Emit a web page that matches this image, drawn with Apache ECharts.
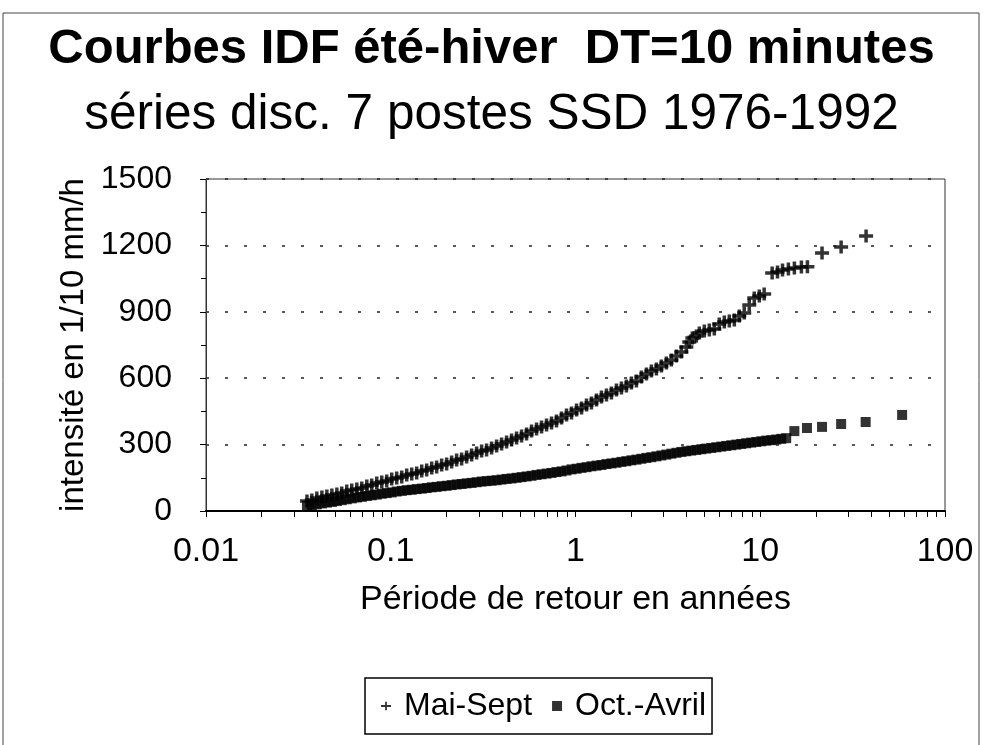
<!DOCTYPE html>
<html>
<head>
<meta charset="utf-8">
<script src="https://cdn.jsdelivr.net/npm/echarts@6/dist/echarts.min.js"></script>
<style>
html, body { margin: 0; padding: 0; background: #fff; }
#chart { width: 983px; height: 745px; }
</style>
</head>
<body>
<div id="chart"></div>
<script>
// période de retour (années) et intensité (1/10 mm/h)
var tMaiSept = [
    0.0352, 0.0374, 0.0398, 0.0424, 0.0451, 0.0480, 0.0511, 0.0543, 0.0578, 0.0615,
    0.0655, 0.0697, 0.0742, 0.0789, 0.0840, 0.0894, 0.0951, 0.1012, 0.1077, 0.1147,
    0.1220, 0.1299, 0.1382, 0.1471, 0.1565, 0.1666, 0.1772, 0.1886, 0.2007, 0.2136,
    0.2273, 0.2419, 0.2574, 0.2740, 0.2916, 0.3103, 0.3302, 0.3514, 0.3741, 0.3981,
    0.4236, 0.4508, 0.4798, 0.5106, 0.5434, 0.5783, 0.6154, 0.6550, 0.6970, 0.7418,
    0.7894, 0.8401, 0.8940, 0.9515, 1.013, 1.078, 1.147, 1.220, 1.299, 1.382,
    1.471, 1.565, 1.666, 1.773, 1.886, 2.007, 2.136, 2.274, 2.420, 2.575,
    2.741, 2.917, 3.104, 3.303, 3.516, 3.741, 3.981,
    4.13, 4.29, 4.51, 4.68, 4.98, 5.30, 5.64, 6.00, 6.39, 6.80, 7.24, 7.70,
    8.19, 8.72, 9.28, 9.88, 10.5, 11.6, 12.4, 13.2, 14.2, 15.3, 16.7, 18.0,
    21.6, 27.4, 37.4
];
var iMaiSept = [
    45, 50, 59, 63, 68, 72, 77, 81, 90, 95,
    99, 104, 113, 117, 127, 131, 136, 145, 149, 154,
    163, 167, 172, 181, 185, 194, 199, 208, 212, 221,
    230, 235, 244, 253, 262, 271, 276, 285, 294, 303,
    312, 321, 330, 339, 348, 361, 370, 380, 389, 398,
    407, 420, 434, 443, 456, 465, 479, 488, 501, 515,
    524, 533, 547, 556, 565, 578, 587, 605, 619, 633,
    642, 655, 669, 682, 700, 718, 741,
    764, 782, 791, 804, 813, 818, 822, 845, 854, 858, 863, 881,
    895, 931, 962, 971, 980, 1075, 1080, 1089, 1093, 1098, 1102, 1104,
    1166, 1193, 1242
];
var tOctAvril = [
    0.0352, 0.0374, 0.0398, 0.0424, 0.0451, 0.0480, 0.0511, 0.0543, 0.0578, 0.0615,
    0.0655, 0.0697, 0.0742, 0.0789, 0.0840, 0.0894, 0.0951, 0.1012, 0.1077, 0.1147,
    0.1220, 0.1299, 0.1382, 0.1471, 0.1565, 0.1666, 0.1772, 0.1886, 0.2007, 0.2136,
    0.2273, 0.2419, 0.2574, 0.2740, 0.2916, 0.3103, 0.3302, 0.3514, 0.3741, 0.3981,
    0.4236, 0.4508, 0.4798, 0.5106, 0.5434, 0.5783, 0.6154, 0.6550, 0.6970, 0.7418,
    0.7894, 0.8401, 0.8940, 0.9515, 1.013, 1.078, 1.147, 1.220, 1.299, 1.382,
    1.471, 1.565, 1.666, 1.773, 1.886, 2.007, 2.136, 2.274, 2.420, 2.575,
    2.741, 2.917, 3.104, 3.303, 3.516, 3.741, 3.981, 4.236, 4.508, 4.798,
    5.106, 5.434, 5.783, 6.154, 6.550, 6.970, 7.418, 7.894, 8.401, 8.940,
    9.515, 10.13, 10.78, 11.47, 12.20, 12.99, 13.82,
    15.3, 17.9, 21.6, 27.4, 37.2, 58.6
];
var iOctAvril = [
    23, 27, 30, 34, 38, 41, 45, 49, 53, 57,
    61, 64, 68, 71, 74, 78, 81, 84, 88, 91,
    94, 96, 99, 101, 104, 107, 109, 112, 114, 117,
    120, 122, 125, 127, 130, 133, 135, 137, 139, 142,
    145, 147, 150, 153, 156, 159, 163, 166, 169, 172,
    176, 179, 183, 188, 191, 195, 198, 202, 205, 208,
    212, 215, 218, 222, 225, 229, 232, 236, 240, 243,
    247, 251, 255, 259, 263, 267, 270, 273, 276, 279,
    282, 285, 288, 291, 294, 297, 300, 303, 306, 309,
    312, 315, 318, 320, 323, 326, 329,
    361, 375, 380, 393, 402, 434
];

// graduations de l'axe des x (log)
var xLabels = ['0.01', '0.1', '1', '10', '100'];
var xTicks = [
    0.01, 0.02, 0.03, 0.04, 0.05, 0.06, 0.07, 0.08, 0.09,
    0.1, 0.2, 0.3, 0.4, 0.5, 0.6, 0.7, 0.8, 0.9,
    1, 2, 3, 4, 5, 6, 7, 8, 9,
    10, 20, 30, 40, 50, 60, 70, 80, 90, 100
];

var FONT = '"Liberation Sans", Arial, Helvetica, sans-serif';
var PLUS = 'path://M5.25,0H8.75V4.75H14V8.25H8.75V13H5.25V8.25H0V4.75H5.25Z';
var PLUS_THIN = 'path://M5.75,0H8.25V4.75H14V7.25H8.25V12H5.75V7.25H0V4.75H5.75Z';

function pairs(t, v) {
    return t.map(function (x, i) { return [x, v[i]]; });
}

var myChart = echarts.init(document.getElementById('chart'));

var option = {
    backgroundColor: '#fff',
    animation: false,
    textStyle: { fontFamily: FONT, color: '#000' },
    graphic: [{
        type: 'rect',
        shape: { x: 3, y: 13, width: 976, height: 760 },
        style: { fill: 'none', stroke: '#444', lineWidth: 1 },
        silent: true
    }],
    title: [{
        text: 'Courbes IDF été-hiver  DT=10 minutes',
        left: 'center',
        top: 16,
        textStyle: { fontFamily: FONT, fontSize: 49, fontWeight: 'bold', color: '#000', lineHeight: 56 }
    }, {
        text: 'séries disc. 7 postes SSD 1976-1992',
        left: 'center',
        top: 82,
        textStyle: { fontFamily: FONT, fontSize: 49.5, fontWeight: 'normal', color: '#000', lineHeight: 56 }
    }],
    legend: {
        left: 365,
        top: 678,
        orient: 'horizontal',
        padding: [12, 6, 12, 16],
        itemGap: 20,
        itemWidth: 10,
        itemHeight: 10,
        borderColor: '#000',
        borderWidth: 1.5,
        textStyle: { fontFamily: FONT, fontSize: 32, color: '#000', padding: [0, 2, 0, 8] },
        data: [
            { name: 'Mai-Sept', icon: PLUS_THIN },
            { name: 'Oct.-Avril', icon: 'rect', itemStyle: { color: '#000' } }
        ]
    },
    grid: {
        left: 206,
        top: 179,
        width: 739,
        height: 332,
        show: true,
        borderColor: '#333',
        borderWidth: 1,
        backgroundColor: 'transparent'
    },
    xAxis: {
        type: 'log',
        logBase: 10,
        min: 0.01,
        max: 100,
        name: 'Période de retour en années',
        nameLocation: 'middle',
        nameGap: 72,
        nameTextStyle: { fontFamily: FONT, fontSize: 34, color: '#000' },
        axisLine: { lineStyle: { color: '#000', width: 2 } },
        axisTick: { customValues: xTicks, length: 6, lineStyle: { color: '#000', width: 1 } },
        axisLabel: {
            margin: 24,
            fontFamily: FONT,
            fontSize: 34,
            color: '#000',
            formatter: function (v) {
                return xLabels[Math.round(Math.log10(v)) + 2];
            }
        },
        splitLine: { show: false },
        minorTick: { show: false }
    },
    yAxis: {
        type: 'value',
        min: 0,
        max: 1500,
        interval: 300,
        name: 'intensité en 1/10 mm/h',
        nameLocation: 'middle',
        nameGap: 54,
        nameRotate: 90,
        nameTextStyle: { fontFamily: FONT, fontSize: 33, color: '#000' },
        axisLine: { show: true, lineStyle: { color: '#333', width: 1 } },
        axisTick: { show: true, length: 6, lineStyle: { color: '#000' } },
        minorTick: { show: true, splitNumber: 2, length: 5, lineStyle: { color: '#000' } },
        axisLabel: {
            margin: 34,
            fontFamily: FONT,
            fontSize: 32,
            color: '#000',
            formatter: function (v) { return String(v); }
        },
        splitLine: { show: true, lineStyle: { color: '#222', type: [3, 16], width: 1.5 } }
    },
    series: [{
        name: 'Mai-Sept',
        type: 'scatter',
        symbol: PLUS,
        symbolSize: [14, 13],
        itemStyle: { color: '#000' },
        data: pairs(tMaiSept, iMaiSept)
    }, {
        name: 'Oct.-Avril',
        type: 'scatter',
        symbol: 'rect',
        symbolSize: 10,
        itemStyle: { color: '#000' },
        data: pairs(tOctAvril, iOctAvril)
    }]
};

myChart.setOption(option);
</script>
</body>
</html>
